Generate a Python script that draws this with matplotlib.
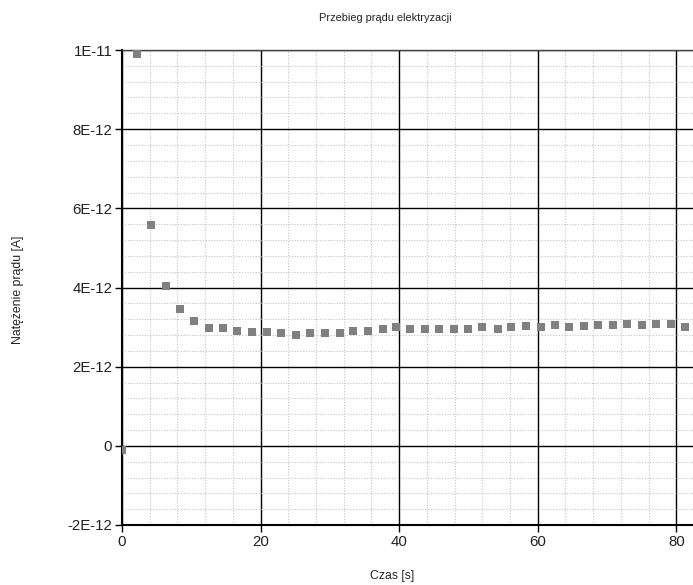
import matplotlib
matplotlib.use("Agg")
import matplotlib.pyplot as plt
from matplotlib.ticker import MultipleLocator, FixedLocator

plt.rcParams['font.family'] = ['Liberation Sans', 'DejaVu Sans']

# Data (time in s, current in A)
time_s = [0.0, 2.2, 4.2, 6.3, 8.3, 10.4, 12.5, 14.6, 16.6, 18.8,
          20.9, 23.0, 25.1, 27.1, 29.3, 31.4, 33.4, 35.5, 37.6, 39.6,
          41.6, 43.7, 45.8, 47.9, 50.0, 52.0, 54.2, 56.2, 58.3, 60.4,
          62.5, 64.5, 66.7, 68.7, 70.8, 72.9, 75.0, 77.0, 79.2, 81.2]
current_pA = [-0.10, 9.89, 5.57, 4.03, 3.46, 3.16, 2.97, 2.97, 2.91, 2.87,
              2.87, 2.84, 2.81, 2.85, 2.85, 2.85, 2.89, 2.89, 2.94, 3.00,
              2.96, 2.96, 2.96, 2.96, 2.96, 2.99, 2.96, 2.99, 3.02, 3.00,
              3.05, 3.00, 3.02, 3.05, 3.05, 3.08, 3.05, 3.09, 3.09, 3.00]
current_A = [v * 1e-12 for v in current_pA]

y_ticks = [-2e-12, 0, 2e-12, 4e-12, 6e-12, 8e-12, 1e-11]
y_labels = ["-2E-12", "0", "2E-12", "4E-12", "6E-12", "8E-12", "1E-11"]
x_ticks = [0, 20, 40, 60, 80]
x_labels = ["0", "20", "40", "60", "80"]

W, H = 693, 585
fig = plt.figure(figsize=(W / 100, H / 100), dpi=100)
ax = fig.add_axes([122 / W, 1 - 525 / H, (W - 122) / W, (525 - 50) / H])

ax.plot(time_s, current_A, linestyle='none', marker='s', markersize=5.3,
        color='#808080', markeredgewidth=0, zorder=5)

ax.set_xlim(0, 82.4)
ax.set_ylim(-2e-12, 1e-11)

ax.xaxis.set_major_locator(FixedLocator(x_ticks))
ax.set_xticklabels(x_labels)
ax.yaxis.set_major_locator(FixedLocator(y_ticks))
ax.set_yticklabels(y_labels)
ax.xaxis.set_minor_locator(MultipleLocator(4))
ax.yaxis.set_minor_locator(MultipleLocator(0.4e-12))

ax.grid(which='major', color='black', linewidth=1.0, linestyle='-', zorder=1)
ax.grid(which='minor', color='#c4c4c4', linewidth=0.8, linestyle=(0, (1, 1.5)), zorder=0)
ax.set_axisbelow(True)

ax.tick_params(which='major', direction='out', length=5, width=1.0,
               labelsize=10.8, colors='black', pad=2)
ax.tick_params(which='minor', length=0)
for lab in ax.get_xticklabels() + ax.get_yticklabels():
    lab.set_color('#222222')

ax.spines['right'].set_visible(False)
ax.spines['top'].set_color('#444444')
ax.spines['top'].set_linewidth(1.0)
ax.spines['left'].set_linewidth(1.5)
ax.spines['bottom'].set_linewidth(1.5)
ax.spines['left'].set_color('black')
ax.spines['bottom'].set_color('black')

fig.text(385 / W, 1 - 18 / H, "Przebieg prądu elektryzacji", ha='center', va='center',
         fontsize=7.9, color='#222222')
fig.text(392 / W, 1 - 576 / H, "Czas [s]", ha='center', va='center',
         fontsize=8.8, color='#222222')
fig.text(18 / W, 1 - 290 / H, "Natężenie prądu [A]", ha='center', va='center',
         rotation=90, fontsize=8.8, color='#222222')

fig.savefig("out.png", dpi=100)
